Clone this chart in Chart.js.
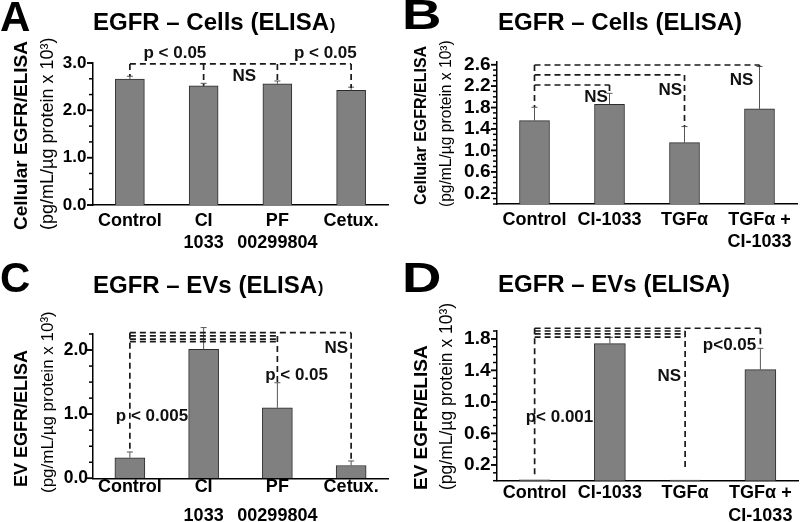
<!DOCTYPE html>
<html>
<head>
<meta charset="utf-8">
<script src="https://cdn.jsdelivr.net/npm/chart.js@4.4.1/dist/chart.umd.min.js"></script>
<style>
  body { margin: 0; background: #fff; }
  #wrap { position: relative; width: 800px; height: 522px; background: #fff; }
  canvas { position: absolute; }
</style>
</head>
<body>
<div id="wrap">
  <canvas id="panelA" width="400" height="260" style="left:0;top:0"></canvas>
  <canvas id="panelB" width="400" height="260" style="left:400px;top:0"></canvas>
  <canvas id="panelC" width="400" height="262" style="left:0;top:260px"></canvas>
  <canvas id="panelD" width="400" height="262" style="left:400px;top:260px"></canvas>
</div>
<script>
const FONT = "'Liberation Sans', Arial, Helvetica, sans-serif";
Chart.defaults.font.family = FONT;
Chart.defaults.color = '#000';

// categories
const inhibitorLabels = [['Control'], ['CI', '1033'], ['PF', '00299804'], ['Cetux.']];
const tgfLabels = [['Control'], ['CI-1033'], ['TGFα'], ['TGFα +', 'CI-1033']];

// A - cellular EGFR with inhibitors (pg/mL/µg x 10^3)
const cellsInhib = [2.66, 2.52, 2.56, 2.42];
const cellsInhibErr = [0.06, 0.05, 0.06, 0.07];
// B - cellular EGFR with TGFα
const cellsTgf = [1.555, 1.86, 1.145, 1.775];
const cellsTgfErr = [0.25, 0.205, 0.30, 0.79];
// C - EV EGFR with inhibitors
const evInhib = [0.32, 2.01, 1.10, 0.20];
const evInhibErr = [0.09, 0.34, 0.39, 0.07];
// D - EV EGFR with TGFα
const evTgf = [0.012, 1.74, 0.008, 1.41];
const evTgfErr = [0, 0.08, 0, 0.27];

// labelled y ticks
const ticksA = [0, 1, 2, 3];
const ticksB = [0.2, 0.6, 1.0, 1.4, 1.8, 2.2, 2.6];
const ticksC = [0, 1, 2];
const ticksD = [0.2, 0.6, 1.0, 1.4, 1.8];

// significance brackets: [cat1, val1, cat2, val2]
const bracketsA = [[0, 2.98, 3, 2.98], [0, 2.98, 0, 2.72], [1, 2.98, 1, 2.52], [2, 2.98, 2, 2.58], [3, 2.98, 3, 2.47]];
const bracketsB = [[0, 2.594, 3, 2.594], [0, 2.408, 2, 2.408], [0, 2.221, 1, 2.221],
                   [0, 2.594, 0, 1.81], [1, 2.221, 1, 2.07], [2, 2.408, 2, 1.45], [3, 2.594, 3, 2.565]];
const bracketsC = [[0, 2.27, 3, 2.27], [0, 2.22, 2, 2.22], [0, 2.17, 2, 2.17], [0, 2.13, 2, 2.13],
                   [0, 2.27, 0, 0.42], [2, 2.22, 2, 1.49], [3, 2.27, 3, 0.27]];
const bracketsD = [[0, 1.935, 3, 1.935], [0, 1.90, 2, 1.90], [0, 1.863, 2, 1.863], [0, 1.821, 2, 1.821],
                   [0, 1.935, 0, 0.05], [2, 1.90, 2, 0.127], [3, 1.935, 3, 1.68]];
// significance labels: [text, cat, val]
const notesA = [['p < 0.05', 0.61, 3.2], ['p < 0.05', 2.65, 3.2], ['NS', 1.55, 2.71]];
const notesB = [['NS', 0.82, 2.0], ['NS', 1.81, 2.13], ['NS', 2.76, 2.31]];
const notesC = [['p < 0.005', 0.30, 0.96], ['p < 0.05', 2.26, 1.61], ['NS', 2.80, 2.03]];
const notesD = [['p< 0.001', 0.33, 0.81], ['NS', 1.79, 1.32], ['p<0.05', 2.59, 1.72]];

const panels = {
  panelA: { letter: 'A', letterX: 0, letterY: 31, letterScale: 1,
            title: 'EGFR – Cells (ELISA', tail: ')', titleX: 93, titleY: 30,
            yTitle: ['Cellular EGFR/ELISA', '(pg/mL/µg protein x 10³)'], yTitleX: [22, 48], yTitleBottom: [230, 230], yTitleSize: [19, 18],
            minorStep: 1 / 3, values: cellsInhib, errors: cellsInhibErr, brackets: bracketsA, notes: notesA },
  panelB: { letter: 'B', letterX: 2, letterY: 29, letterScale: 1.3,
            title: 'EGFR – Cells (ELISA)', tail: '', titleX: 98, titleY: 30,
            yTitle: ['Cellular EGFR/ELISA', '(pg/mL/µg protein x 10³)'], yTitleX: [22, 47], yTitleBottom: [205, 207], yTitleSize: [16, 15.6],
            minorStep: 0.1, values: cellsTgf, errors: cellsTgfErr, brackets: bracketsB, notes: notesB },
  panelC: { letter: 'C', letterX: 0, letterY: 32, letterScale: 1,
            title: 'EGFR – EVs (ELISA', tail: ')', titleX: 93, titleY: 33,
            yTitle: ['EV EGFR/ELISA', '(pg/mL/µg protein x 10³)'], yTitleX: [22, 48], yTitleBottom: [227, 233], yTitleSize: [18, 17],
            minorStep: 0.25, values: evInhib, errors: evInhibErr, brackets: bracketsC, notes: notesC },
  panelD: { letter: 'D', letterX: 2, letterY: 32, letterScale: 1.3,
            title: 'EGFR – EVs (ELISA)', tail: '', titleX: 98, titleY: 32,
            yTitle: ['EV EGFR/ELISA', '(pg/mL/µg protein x 10³)'], yTitleX: [22, 47], yTitleBottom: [230, 230], yTitleSize: [19, 17.5],
            minorStep: 0.1, values: evTgf, errors: evTgfErr, brackets: bracketsD, notes: notesD }
};

const annotatePlugin = {
  id: 'annotate',
  afterDatasetsDraw(chart) {
    const p = panels[chart.canvas.id];
    const ctx = chart.ctx, xs = chart.scales.x, ys = chart.scales.y;
    ctx.save();
    ctx.strokeStyle = '#555';
    ctx.lineWidth = 1;
    p.values.forEach((v, i) => {
      if (!p.errors[i]) return;
      const x = xs.getPixelForValue(i);
      const y1 = ys.getPixelForValue(v), y2 = ys.getPixelForValue(v + p.errors[i]);
      ctx.beginPath();
      ctx.moveTo(x, y1); ctx.lineTo(x, y2);
      ctx.moveTo(x - 3, y2); ctx.lineTo(x + 3, y2);
      ctx.stroke();
    });
    ctx.restore();
  },
  afterDraw(chart) {
    const p = panels[chart.canvas.id];
    const ctx = chart.ctx, xs = chart.scales.x, ys = chart.scales.y;
    const area = chart.chartArea;
    ctx.save();

    // y tick marks, long for labelled values, short in between
    ctx.strokeStyle = '#000';
    ctx.lineWidth = 1.5;
    const n = Math.floor(ys.max / p.minorStep + 1e-6);
    const majors = ys.ticks.map(t => t.value);
    for (let k = 0; k <= n; k++) {
      const v = k * p.minorStep;
      const major = majors.some(m => Math.abs(m - v) < 1e-6);
      const y = ys.getPixelForValue(v);
      ctx.beginPath();
      ctx.moveTo(area.left, y);
      ctx.lineTo(area.left - (major ? 6 : 4), y);
      ctx.stroke();
    }
    majors.forEach(v => {
      const y = ys.getPixelForValue(v);
      ctx.beginPath(); ctx.moveTo(area.left, y); ctx.lineTo(area.left - 6, y); ctx.stroke();
    });

    // brackets
    ctx.strokeStyle = '#1a1a1a';
    ctx.lineWidth = 1.7;
    ctx.setLineDash([6, 4]);
    p.brackets.forEach(b => {
      ctx.beginPath();
      ctx.moveTo(xs.getPixelForValue(b[0]), ys.getPixelForValue(b[1]));
      ctx.lineTo(xs.getPixelForValue(b[2]), ys.getPixelForValue(b[3]));
      ctx.stroke();
    });
    ctx.setLineDash([]);

    // significance labels
    ctx.fillStyle = '#111';
    ctx.font = `bold 17px ${FONT}`;
    ctx.textAlign = 'center';
    ctx.textBaseline = 'middle';
    p.notes.forEach(t => ctx.fillText(t[0], xs.getPixelForValue(t[1]), ys.getPixelForValue(t[2])));

    // title
    ctx.fillStyle = '#000';
    ctx.textAlign = 'left';
    ctx.textBaseline = 'alphabetic';
    ctx.font = `bold 24px ${FONT}`;
    ctx.fillText(p.title, p.titleX, p.titleY);
    if (p.tail) {
      const w = ctx.measureText(p.title).width;
      ctx.font = `bold 16px ${FONT}`;
      ctx.fillText(p.tail, p.titleX + w + 1, p.titleY);
    }

    // panel letter
    ctx.save();
    ctx.translate(p.letterX, p.letterY);
    ctx.scale(p.letterScale, 1);
    ctx.font = `bold 42px ${FONT}`;
    ctx.fillText(p.letter, 0, 0);
    ctx.restore();

    // y axis titles
    ctx.textBaseline = 'middle';
    p.yTitle.forEach((txt, i) => {
      ctx.save();
      ctx.translate(p.yTitleX[i], p.yTitleBottom[i]);
      ctx.rotate(-Math.PI / 2);
      ctx.font = (i === 0 ? 'bold ' : '') + p.yTitleSize[i] + 'px ' + FONT;
      ctx.fillText(txt, 0, 0);
      ctx.restore();
    });
    ctx.restore();
  }
};

function makeChart(id, labels, values, ticks, o) {
  return new Chart(document.getElementById(id), {
    type: 'bar',
    data: {
      labels: labels,
      datasets: [{
        data: values,
        backgroundColor: '#808080',
        borderColor: '#2b2b2b',
        borderWidth: 1,
        barThickness: o.barWidth
      }]
    },
    options: {
      responsive: false,
      animation: false,
      layout: { padding: { top: o.top, right: o.right, bottom: 0, left: 0 } },
      plugins: { legend: { display: false }, tooltip: { enabled: false } },
      scales: {
        x: {
          grid: { display: false, drawTicks: false, tickLength: 0 },
          border: { display: true, color: '#000', width: 1.5 },
          ticks: {
            color: '#000', padding: o.xPad, maxRotation: 0, autoSkip: false,
            font: { family: FONT, size: 18, weight: 'bold', lineHeight: o.xLine }
          },
          afterFit: s => { s.height = o.xHeight; }
        },
        y: {
          min: 0, max: o.max,
          grid: { display: false, drawTicks: false, tickLength: 0 },
          border: { display: true, color: '#000', width: 1.5 },
          ticks: {
            color: '#000', padding: o.yPad, autoSkip: false,
            font: { family: FONT, size: o.yTickSize, weight: 'bold' },
            callback: v => Number(v).toFixed(1)
          },
          afterBuildTicks: s => { s.ticks = ticks.map(v => ({ value: v })); },
          afterFit: s => { s.width = o.left; }
        }
      }
    },
    plugins: [annotatePlugin]
  });
}

makeChart('panelA', inhibitorLabels, cellsInhib, ticksA,
  { max: 3, top: 63, right: 12, left: 93, xHeight: 55, xPad: 6, xLine: 1.17, yPad: 6.5, yTickSize: 17, barWidth: 29 });
makeChart('panelB', tgfLabels, cellsTgf, ticksB,
  { max: 2.65, top: 62, right: 3, left: 97, xHeight: 56, xPad: 5.5, xLine: 1.2, yPad: 6.5, yTickSize: 19, barWidth: 30 });
makeChart('panelC', inhibitorLabels, evInhib, ticksC,
  { max: 2.25, top: 74, right: 12, left: 93, xHeight: 43.7, xPad: -5, xLine: 1.58, yPad: 5, yTickSize: 17.5, barWidth: 30 });
makeChart('panelD', tgfLabels, evTgf, ticksD,
  { max: 1.9, top: 71, right: 2, left: 97, xHeight: 41.3, xPad: 1.2, xLine: 1.26, yPad: 6.5, yTickSize: 19, barWidth: 31 });
</script>
</body>
</html>
